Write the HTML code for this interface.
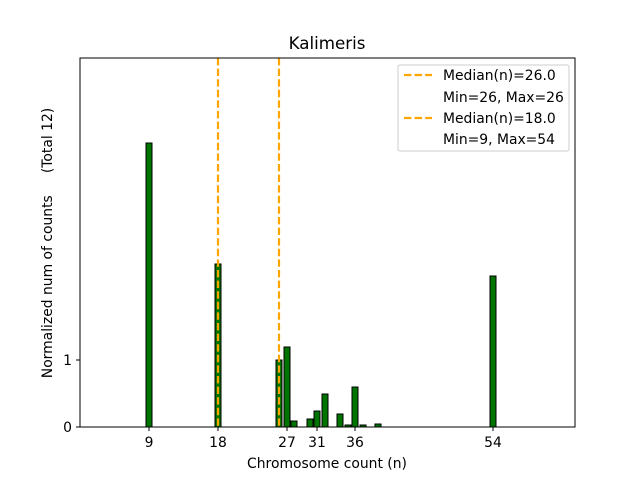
<!DOCTYPE html>
<html><head><meta charset="utf-8"><style>body{margin:0;background:#fff}svg{display:block}text{font-family:"DejaVu Sans","Liberation Sans",sans-serif;fill:#000}</style></head>
<body>
<svg width="640" height="480" viewBox="0 0 640 480" xmlns="http://www.w3.org/2000/svg">
<rect width="640" height="480" fill="#fff"/>
<g fill="#007400" stroke="#000" stroke-width="1">
<rect x="146" y="143" width="6" height="284"/>
<rect x="215" y="264" width="6" height="163"/>
<rect x="490" y="276" width="6" height="151"/>
<rect x="276" y="360" width="6" height="67"/>
<rect x="284" y="347" width="6" height="80"/>
<rect x="291" y="421" width="6" height="6"/>
<rect x="307" y="419" width="6" height="8"/>
<rect x="314" y="411" width="6" height="16"/>
<rect x="322" y="394" width="6" height="33"/>
<rect x="337" y="414" width="6" height="13"/>
<rect x="345" y="425" width="6" height="2"/>
<rect x="352" y="387" width="6" height="40"/>
<rect x="360" y="425" width="6" height="2"/>
<rect x="375" y="424" width="6" height="3"/>
</g>
<line x1="218" y1="58" x2="218" y2="427" stroke="#ffa500" stroke-width="2.2" stroke-dasharray="7.4,3.2"/>
<line x1="279" y1="58" x2="279" y2="427" stroke="#ffa500" stroke-width="2.2" stroke-dasharray="7.4,3.2"/>
<rect x="80" y="58" width="495" height="369" fill="none" stroke="#000" stroke-width="1"/>
<g stroke="#000">
<line x1="149" y1="427" x2="149" y2="431"/><line x1="218" y1="427" x2="218" y2="431"/>
<line x1="287" y1="427" x2="287" y2="431"/><line x1="317" y1="427" x2="317" y2="431"/>
<line x1="355" y1="427" x2="355" y2="431"/><line x1="493" y1="427" x2="493" y2="431"/>
<line x1="76" y1="427" x2="80" y2="427"/><line x1="76" y1="360" x2="80" y2="360"/>
</g>
<g font-size="13.9" text-anchor="middle">
<text x="149" y="447">9</text><text x="218" y="447">18</text><text x="287" y="447">27</text>
<text x="317" y="447">31</text><text x="355" y="447">36</text><text x="493" y="447">54</text>
<text x="327" y="468">Chromosome count (n)</text>
</g>
<g font-size="13.9" text-anchor="end">
<text x="72" y="432">0</text><text x="72" y="365">1</text>
</g>
<text x="327" y="49" font-size="16.7" text-anchor="middle">Kalimeris</text>
<text transform="translate(52,243) rotate(-90)" font-size="13.9" text-anchor="middle" xml:space="preserve">Normalized num of counts     (Total 12)</text>
<rect x="398" y="65" width="171" height="86" rx="2" fill="#fff" stroke="#ccc"/>
<line x1="404" y1="75" x2="432" y2="75" stroke="#ffa500" stroke-width="2.2" stroke-dasharray="7.4,3.2"/>
<line x1="404" y1="118" x2="432" y2="118" stroke="#ffa500" stroke-width="2.2" stroke-dasharray="7.4,3.2"/>
<g font-size="13.9">
<text x="443" y="80">Median(n)=26.0</text>
<text x="443" y="102">Min=26, Max=26</text>
<text x="443" y="123">Median(n)=18.0</text>
<text x="443" y="144">Min=9, Max=54</text>
</g>
</svg>
</body></html>
